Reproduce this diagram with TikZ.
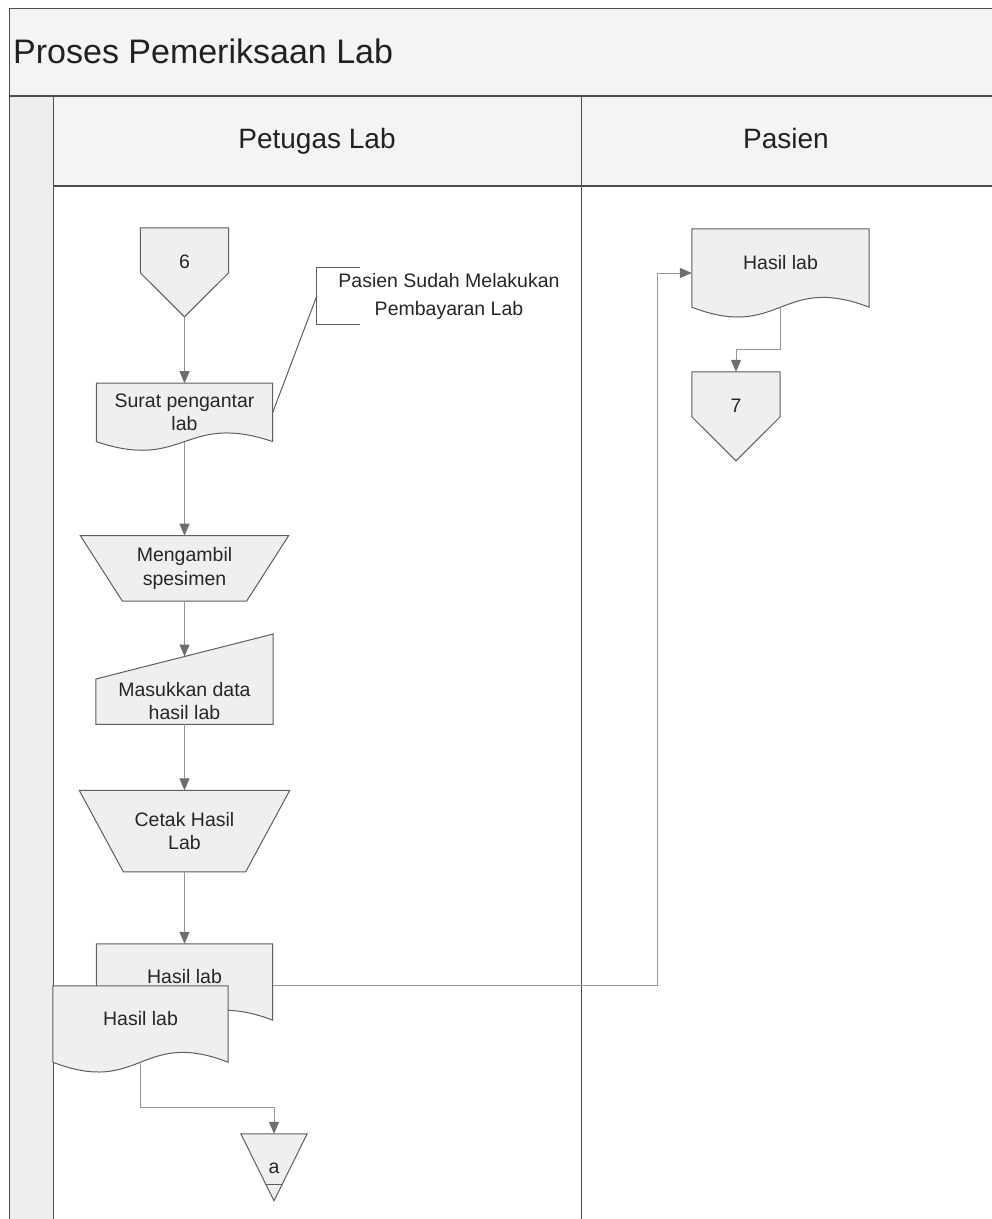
\documentclass[tikz,border=0pt]{standalone}
\usepackage{fontspec}
\setmainfont{Liberation Sans}
\usetikzlibrary{arrows.meta,positioning,calc,backgrounds}
\definecolor{lnline}{HTML}{4D4D4D}
\definecolor{lnfill}{HTML}{F4F4F4}
\definecolor{stripfill}{HTML}{EDEDED}
\definecolor{shpfill}{HTML}{EFEFEF}
\definecolor{shpline}{HTML}{5E5E5E}
\definecolor{arrline}{HTML}{959595}
\definecolor{arrhead}{HTML}{6E6E6E}

\begin{document}
\begin{tikzpicture}[
  x=1pt, y=-1pt,
  lbl/.style={
    font=\fontsize{19.5}{23.5}\selectfont, align=center,
    text=black!85, inner sep=0pt
  },
  hdr/.style={
    font=\fontsize{28}{34}\selectfont, anchor=base,
    text=black!87, inner sep=0pt
  },
  docu/.style={lbl, minimum width=176pt, minimum height=76pt, text depth=12pt},
  manop/.style={lbl, minimum width=208pt},
  manin/.style={lbl, minimum width=177pt, minimum height=46pt},
  offpg/.style={lbl, minimum width=88pt, minimum height=68pt},
  mrg/.style={lbl, minimum width=66pt, minimum height=68pt},
  shp/.style={fill=shpfill, draw=shpline, line width=1pt},
  lane/.style={draw=lnline, line width=1pt},
  arr/.style={draw=arrline, line width=1pt,
    -{Triangle[length=12pt, width=10pt, color=arrhead]}},
]
  \useasboundingbox (0,0) rectangle (992,1219);

  % Pool and lanes
  \begin{scope}[on background layer]
    \fill[lnfill] (9,8) rectangle (992,186);
    \fill[stripfill] (9,96) rectangle (53,1219);
    \draw[lane] (9,1219) -- (9,8) -- (992,8);
    \draw[lane, line width=2pt] (9,96) -- (992,96);
    \draw[lane, line width=2pt] (53,186) -- (992,186);
    \draw[lane] (53,96) -- (53,1219);
    \draw[lane] (581,96) -- (581,1219);
  \end{scope}
  \node[font=\fontsize{34}{41}\selectfont, anchor=base west, text=black!87,
    inner sep=0pt] (title) at (13,63) {Proses Pemeriksaan Lab};
  \node[hdr] (hpetugas) at (317,148) {Petugas Lab};
  \node[hdr] (hpasien) at (786,148) {Pasien};

  % Petugas Lab
  \node[offpg] (conn6) at (184.5,262) {6};
  \node[docu, below=87pt of conn6, minimum height=58pt, text depth=0pt] (surat)
    {Surat pengantar\\lab};
  \node[manop, below=94pt of surat, minimum height=65pt] (ambil)
    {Mengambil\\spesimen};
  \node[manin, below=77pt of ambil] (masuk) {Masukkan data\\hasil lab};
  \node[manop, below=66pt of masuk, minimum width=210pt, minimum height=81pt] (cetak)
    {Cetak Hasil\\Lab};
  \node[docu, below=72pt of cetak] (hasilB) {Hasil lab};
  \node[docu, minimum width=175pt] (hasilF) at (140.5,1024) {Hasil lab};
  \node[mrg] (merge) at (274,1168) {a};
  \node[lbl, font=\fontsize{19.5}{28}\selectfont, minimum width=264pt,
    minimum height=56pt] (note) at (449,296) {Pasien Sudah Melakukan\\Pembayaran Lab};

  % Pasien
  \node[docu, minimum width=177pt, minimum height=78pt] (hasilP) at (780.5,268) {Hasil lab};
  \node[offpg] (conn7) at (736,406) {7};

  \coordinate (conn6tip) at ($(conn6.north)+(0,89)$);
  \coordinate (conn7tip) at ($(conn7.north)+(0,89)$);
  \coordinate (mergetip) at ($(merge.north)+(0,67)$);
  \coordinate (masukTL) at ($(masuk.north west)+(0,1)$);
  \coordinate (masukTR) at ($(masuk.north east)+(0,-44)$);
  \coordinate (masukmid) at ($(masukTL)!0.5!(masukTR)$);

  % Shape outlines
  \begin{scope}[on background layer]
    \foreach \d/\k in {surat/30, hasilB/34, hasilF/34, hasilP/34}
      \filldraw[shp] (\d.south west) .. controls ($(\d.south)+(0,\k)$)
        and ($(\d.south)+(0,-\k)$) .. (\d.south east)
        -- (\d.north east) -- (\d.north west) -- cycle;
    \filldraw[shp] (ambil.north west) -- (ambil.north east)
      -- ($(ambil.south east)+(-42,0)$) -- ($(ambil.south west)+(42,0)$) -- cycle;
    \filldraw[shp] (cetak.north west) -- (cetak.north east)
      -- ($(cetak.south east)+(-44,0)$) -- ($(cetak.south west)+(44,0)$) -- cycle;
    \filldraw[shp] (masuk.south west) -- (masuk.south east)
      -- (masukTR) -- (masukTL) -- cycle;
    \filldraw[shp] (conn6.north west) -- (conn6.north east)
      -- ($(conn6.north east)+(0,45)$) -- (conn6tip)
      -- ($(conn6.north west)+(0,45)$) -- cycle;
    \filldraw[shp] (conn7.north west) -- (conn7.north east)
      -- ($(conn7.north east)+(0,45)$) -- (conn7tip)
      -- ($(conn7.north west)+(0,45)$) -- cycle;
    \filldraw[shp] (merge.north west) -- (merge.north east) -- (mergetip) -- cycle;
  \end{scope}
  \draw[shpline, line width=1pt] ($(merge.north west)!0.75!(mergetip)$)
    -- ($(merge.north east)!0.75!(mergetip)$);
  \draw[shpline, line width=1pt] ($(note.north west)+(43,0)$) -- (note.north west)
    -- (note.south west) -- ($(note.south west)+(43,0)$);

  % Arrows
  \draw[arr] (conn6tip) -- (surat.north);
  \draw[arr] (surat.south) -- (ambil.north);
  \draw[arr] (ambil.south) -- (ambil.south |- masukmid);
  \draw[arr] (masuk.south) -- (cetak.north);
  \draw[arr] (cetak.south) -- (hasilB.north);
  \draw[arr] (hasilB.east |- hasilF.north) -- ++(385,0) |- ($(hasilP.west)+(0,5)$);
  \draw[arr] (hasilF.south) -- ++(0,45) -| (merge.north);
  \draw[arr] (hasilP.south) -- ++(0,42) -| (conn7.north);
  \draw[shpline, line width=1pt] (note.west) -- (surat.east);
\end{tikzpicture}
\end{document}
